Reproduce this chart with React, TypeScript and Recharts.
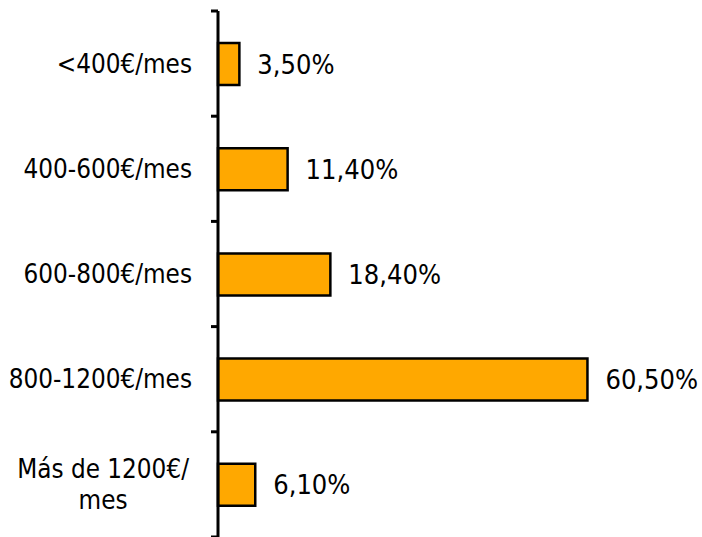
import { BarChart, Bar, XAxis, YAxis, LabelList } from "recharts";

const categories = [
  "<400€/mes",
  "400-600€/mes",
  "600-800€/mes",
  "800-1200€/mes",
  "Más de 1200€/mes",
];
const shares = [3.5, 11.4, 18.4, 60.5, 6.1];

const data = categories.map((name, i) => ({ name, value: shares[i] }));

const W = 702;
const H = 537;
const MARGIN = { top: 11, right: 26, bottom: 0, left: 0 };
const AXIS_W = 218;
const TICK_SIZE = 7;
const TICK_MARGIN = 19;
const FONT = "'DejaVu Sans Condensed', 'DejaVu Sans', sans-serif";
const FS = 25.8;
const BAND = (H - MARGIN.top - MARGIN.bottom) / categories.length;

// long labels wrap after "€/" like in the original
function splitLabel(s: string): string[] {
  if (s.length <= 14) return [s];
  const i = s.indexOf("€/");
  return i < 0 ? [s] : [s.slice(0, i + 2), s.slice(i + 2)];
}

// eslint-disable-next-line @typescript-eslint/no-explicit-any
function CategoryTick(props: any) {
  const { x, y, payload, index } = props;
  const lines = splitLabel(payload.value);
  const axisX = x + TICK_MARGIN + TICK_SIZE;
  const tickX = x + TICK_MARGIN;
  const isLast = index === categories.length - 1;
  const cx = x - (lines[0].length * FS * 0.53) / 2;
  return (
    <g>
      <line x1={tickX} x2={axisX} y1={y - BAND / 2} y2={y - BAND / 2} stroke="#000" strokeWidth={3} />
      {isLast && (
        <line x1={tickX} x2={axisX} y1={y + BAND / 2} y2={y + BAND / 2} stroke="#000" strokeWidth={3} />
      )}
      {lines.length === 1 ? (
        <text x={x} y={y} dy="0.36em" textAnchor="end" fontSize={FS} fontFamily={FONT} fill="#000">
          {lines[0]}
        </text>
      ) : (
        <text x={cx} y={y} textAnchor="middle" fontSize={FS} fontFamily={FONT} fill="#000">
          <tspan x={cx} dy="-0.24em">
            {lines[0]}
          </tspan>
          <tspan x={cx} dy="1.18em">
            {lines[1]}
          </tspan>
        </text>
      )}
    </g>
  );
}

export default function App() {
  return (
    <div style={{ position: "fixed", left: 0, top: 0, width: W, height: H, background: "#fff" }}>
      <BarChart width={W} height={H} data={data} layout="vertical" margin={MARGIN}>
        <XAxis type="number" domain={[0, 75]} hide />
        <YAxis
          type="category"
          dataKey="name"
          width={AXIS_W}
          axisLine={{ stroke: "#000", strokeWidth: 3 }}
          tickLine={false}
          tickSize={TICK_SIZE}
          tickMargin={TICK_MARGIN}
          tick={<CategoryTick />}
          interval={0}
        />
        <Bar dataKey="value" fill="#FFA800" stroke="#000" strokeWidth={2.5} barSize={42} isAnimationActive={false}>
          <LabelList
            dataKey="value"
            position="right"
            offset={18}
            formatter={(v: number) => v.toFixed(2).replace(".", ",") + "%"}
            style={{ fontSize: 27, fontFamily: FONT, fill: "#000" }}
          />
        </Bar>
      </BarChart>
    </div>
  );
}
